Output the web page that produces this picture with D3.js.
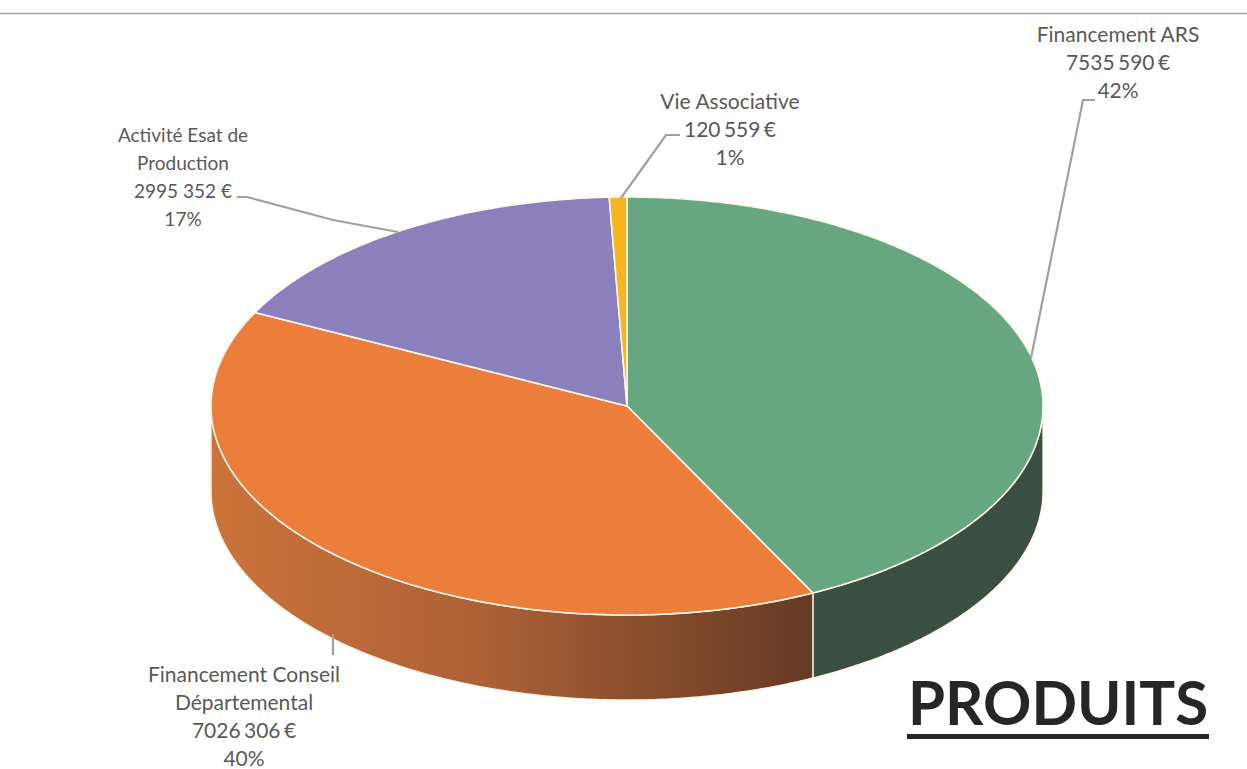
<!DOCTYPE html>
<html>
<head>
<meta charset="utf-8">
<title>Produits</title>
<script src="https://cdn.jsdelivr.net/npm/d3@7"></script>
<style>
html, body { margin: 0; padding: 0; background: #fff; }
svg { display: block; }
text { font-family: Lato, "Open Sans", sans-serif; }
</style>
</head>
<body>
<div id="chart"></div>
<script>
// data
var categories = ["Financement ARS", "Financement Conseil Départemental", "Activité Esat de Production", "Vie Associative"];
var values = [7535590, 7026306, 2995352, 120559];
var valueLabels = ["7535 590 €", "7026 306 €", "2995 352 €", "120 559 €"];
var percentLabels = ["42%", "40%", "17%", "1%"];
var labelLines = [
    ["Financement ARS"],
    ["Financement Conseil", "Départemental"],
    ["Activité Esat de", "Production"],
    ["Vie Associative"]
];
var topColors = ["#66A681", "#EB7E3B", "#8B80BB", "#F7B51E"];

// layout
var width = 1247, height = 769;
var cx = 627, cy = 406, rx = 416, ry = 209, depth = 85;
var labelX = [1118, 244, 183, 730];
var labelY = [42, 682, 142, 109];
var labelSize = [21, 21, 19, 21];
var lineGap = 28;
var leaders = [
    [[1095, 100], [1083, 100], [1031, 358]],
    [[333, 655], [333, 634]],
    [[237, 197], [247, 197], [333, 220], [398, 232]],
    [[680, 135], [666, 135], [621, 198]]
];

var svg = d3.select("#chart").append("svg").attr("width", width).attr("height", height);

var x = d3.scaleLinear().domain([-1, 1]).range([cx - rx, cx + rx]);
var y = d3.scaleLinear().domain([-1, 1]).range([cy - ry, cy + ry]);
var line = d3.line();

function rim(a, dy) {
    return [x(Math.sin(a)), y(-Math.cos(a)) + dy];
}

function arcPoints(a0, a1, dy) {
    var pts = [];
    var n = Math.max(2, Math.ceil((a1 - a0) / 0.01));
    for (var i = 0; i <= n; i++)
        pts.push(rim(a0 + (a1 - a0) * i / n, dy));
    return pts;
}

var pie = d3.pie().sort(null).value(function(d) { return d; });
var slices = pie(values);

var defs = svg.append("defs");
var grad = defs.append("linearGradient")
    .attr("id", "orangeWall")
    .attr("gradientUnits", "userSpaceOnUse")
    .attr("x1", cx - rx).attr("x2", 812).attr("y1", 0).attr("y2", 0);
grad.append("stop").attr("offset", 0).attr("stop-color", "#CC733A");
grad.append("stop").attr("offset", 0.45).attr("stop-color", "#AC6136");
grad.append("stop").attr("offset", 1).attr("stop-color", "#653A24");

// line at the top of the page
svg.append("line")
    .attr("x1", 0).attr("x2", width).attr("y1", 13.5).attr("y2", 13.5)
    .attr("stroke", "#ABABAB").attr("stroke-width", 1.3);

// walls, only the part of a slice on the front half shows
var wallFill = ["#3A4F41", "url(#orangeWall)"];
slices.forEach(function(s, i) {
    var a0 = Math.max(s.startAngle, Math.PI / 2);
    var a1 = Math.min(s.endAngle, 3 * Math.PI / 2);
    if (a1 <= a0) return;
    var pts = arcPoints(a0, a1, 0).concat(arcPoints(a0, a1, depth).reverse());
    svg.append("path")
        .attr("d", line(pts) + "Z")
        .attr("fill", wallFill[i])
        .attr("stroke", "#FFF6E6")
        .attr("stroke-width", 1.3);
});

// top of the pie
svg.selectAll("path.slice")
    .data(slices)
    .join("path")
    .attr("class", "slice")
    .attr("d", function(s) {
        return line([[cx, cy]].concat(arcPoints(s.startAngle, s.endAngle, 0))) + "Z";
    })
    .attr("fill", function(s, i) { return topColors[i]; })
    .attr("stroke", "#FFF8EC")
    .attr("stroke-width", 1.6)
    .attr("stroke-linejoin", "round");

// leader lines
leaders.forEach(function(l) {
    svg.append("path")
        .attr("d", line(l))
        .attr("fill", "none")
        .attr("stroke", "#A0A0A0")
        .attr("stroke-width", 2.2);
});

// labels
categories.forEach(function(c, i) {
    var rows = labelLines[i].concat([valueLabels[i], percentLabels[i]]);
    svg.append("g").selectAll("text")
        .data(rows)
        .join("text")
        .attr("x", labelX[i])
        .attr("y", function(d, j) { return labelY[i] + j * lineGap; })
        .attr("text-anchor", "middle")
        .attr("font-size", labelSize[i])
        .attr("word-spacing", function(d) {
            return d == valueLabels[i] && labelSize[i] > 20 ? -2 : 0;
        })
        .attr("fill", "#595959")
        .text(function(d) { return d; });
});

// title
svg.append("text")
    .attr("x", 908).attr("y", 725)
    .attr("font-size", 62)
    .attr("font-weight", 700)
    .attr("fill", "#262626")
    .attr("textLength", 300)
    .attr("lengthAdjust", "spacingAndGlyphs")
    .text("PRODUITS");
svg.append("line")
    .attr("x1", 907).attr("x2", 1209).attr("y1", 736.5).attr("y2", 736.5)
    .attr("stroke", "#262626").attr("stroke-width", 5);
</script>
</body>
</html>
